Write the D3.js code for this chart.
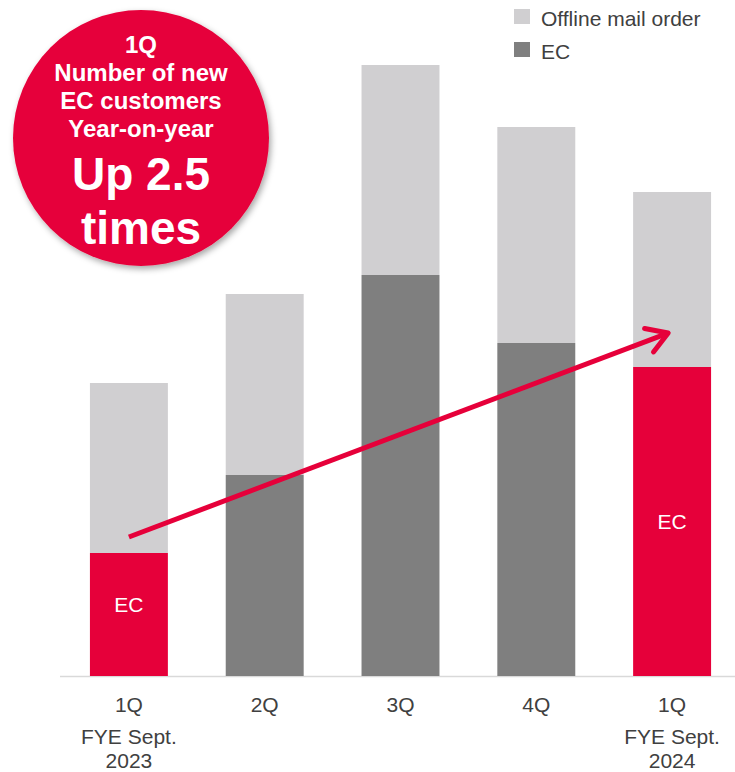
<!DOCTYPE html>
<html>
<head>
<meta charset="utf-8">
<script src="https://cdn.jsdelivr.net/npm/d3@7"></script>
<style>
  body { margin: 0; background: #fff; }
  text { font-family: Arial, "Liberation Sans", sans-serif; }
</style>
</head>
<body>
<div id="chart"></div>
<script>
// data (arbitrary units, no value axis shown)
var quarters = ["1Q", "2Q", "3Q", "4Q", "1Q "]
var yearLabels = ["FYE Sept.|2023", "", "", "", "FYE Sept.|2024"]
var ecValues = [123, 201, 401, 333, 309]
var offlineValues = [170, 181, 210, 216, 175]
var highlighted = [true, false, false, false, true]
var badgeLines = ["1Q", "Number of new", "EC customers", "Year-on-year"]
var badgeBig = ["Up 2.5", "times"]
var legendItems = ["Offline mail order", "EC"]

var width = 735
var height = 772
var margins = ({ top: 20, right: 0, bottom: 96, left: 60 })

const red = "#e6003a"
const lightGrey = "#d0cfd1"
const darkGrey = "#7f7f7f"
const textGrey = "#404040"

var svg = d3.select("#chart").append("svg")
    .attr("width", width)
    .attr("height", height)

var defs = svg.append("defs")
var shadow = defs.append("filter").attr("id", "shadow")
    .attr("x", "-20%").attr("y", "-20%").attr("width", "140%").attr("height", "140%")
shadow.append("feDropShadow")
    .attr("dx", 2).attr("dy", 3).attr("stdDeviation", 3)
    .attr("flood-color", "#000").attr("flood-opacity", 0.35)

var rows = quarters.map(function(q, i) {
    return { q: q, ec: ecValues[i], offline: offlineValues[i], hi: highlighted[i], year: yearLabels[i] }
})

var x = d3.scaleBand()
    .domain(quarters)
    .range([61, 740])
    .paddingInner(0.426)
    .paddingOuter(0.213)

var y = d3.scaleLinear()
    .domain([0, 676 - 66])
    .range([height - margins.bottom, height - margins.bottom - (676 - 66)])

// baseline
svg.append("line")
    .attr("x1", margins.left).attr("x2", width)
    .attr("y1", y(0) + 0.5).attr("y2", y(0) + 0.5)
    .attr("stroke", "#d9d9d9").attr("stroke-width", 1.5)

var bars = svg.append("g").selectAll("g")
    .data(rows)
    .enter().append("g")

bars.append("rect")
    .attr("x", d => x(d.q))
    .attr("width", x.bandwidth())
    .attr("y", d => y(d.ec))
    .attr("height", d => y(0) - y(d.ec))
    .attr("fill", d => d.hi ? red : darkGrey)

bars.append("rect")
    .attr("x", d => x(d.q))
    .attr("width", x.bandwidth())
    .attr("y", d => y(d.ec + d.offline))
    .attr("height", d => y(d.ec) - y(d.ec + d.offline))
    .attr("fill", lightGrey)

bars.filter(d => d.hi).append("text")
    .attr("x", d => x(d.q) + x.bandwidth() / 2)
    .attr("y", (d, i) => (y(0) + y(d.ec)) / 2 + 7 - (d.ec < 200 ? 10 : 0))
    .attr("text-anchor", "middle")
    .attr("font-size", 21)
    .attr("fill", "#fff")
    .text("EC")

// category labels
var labels = svg.append("g").selectAll("text")
    .data(rows)
    .enter().append("text")
    .attr("x", d => x(d.q) + x.bandwidth() / 2)
    .attr("y", y(0) + 36)
    .attr("text-anchor", "middle")
    .attr("font-size", 21)
    .attr("fill", textGrey)
labels.append("tspan").text(d => d.q.trim())
labels.each(function(d) {
    if (!d.year) return
    var t = d3.select(this)
    d.year.split("|").forEach(function(s, k) {
        t.append("tspan")
            .attr("x", x(d.q) + x.bandwidth() / 2)
            .attr("dy", k == 0 ? 32 : 24)
            .text(s)
    })
})

// arrow from first EC bar to last
var first = rows[0], last = rows[rows.length - 1]
var ax1 = x(first.q) + x.bandwidth() / 2
var ay1 = y(first.ec) - 16
var ax2 = x(last.q) + x.bandwidth() * 0.45
var ay2 = y(last.ec) - 34
var ang = Math.atan2(ay2 - ay1, ax2 - ax1)
svg.append("line")
    .attr("x1", ax1).attr("y1", ay1)
    .attr("x2", ax2 - 3 * Math.cos(ang)).attr("y2", ay2 - 3 * Math.sin(ang))
    .attr("stroke", red).attr("stroke-width", 5)
var headLen = 24, spread = 0.55
svg.append("path")
    .attr("d", "M" + (ax2 - headLen * Math.cos(ang - spread)) + "," + (ay2 - headLen * Math.sin(ang - spread)) +
        "L" + ax2 + "," + ay2 +
        "L" + (ax2 - headLen * Math.cos(ang + spread)) + "," + (ay2 - headLen * Math.sin(ang + spread)))
    .attr("fill", "none").attr("stroke", red).attr("stroke-width", 5)
    .attr("stroke-linecap", "round").attr("stroke-linejoin", "round")

// badge
var badge = svg.append("g").attr("transform", "translate(141,138)")
badge.append("circle").attr("r", 128).attr("fill", red).attr("filter", "url(#shadow)")
badge.selectAll(".small")
    .data(badgeLines)
    .enter().append("text")
    .attr("class", "small")
    .attr("y", (d, i) => -85 + i * 28)
    .attr("text-anchor", "middle")
    .attr("font-size", 24)
    .attr("font-weight", "bold")
    .attr("fill", "#fff")
    .text(d => d)
badge.selectAll(".big")
    .data(badgeBig)
    .enter().append("text")
    .attr("class", "big")
    .attr("y", (d, i) => 52 + i * 54)
    .attr("text-anchor", "middle")
    .attr("font-size", 46)
    .attr("font-weight", "bold")
    .attr("fill", "#fff")
    .text(d => d)

// legend
var legend = svg.append("g").attr("transform", "translate(514,9)")
    .selectAll("g")
    .data(legendItems)
    .enter().append("g")
    .attr("transform", (d, i) => "translate(0," + i * 33 + ")")
legend.append("rect")
    .attr("width", 16).attr("height", 15)
    .attr("fill", (d, i) => i == 0 ? lightGrey : darkGrey)
legend.append("text")
    .attr("x", 27).attr("y", 17)
    .attr("font-size", 21)
    .attr("fill", textGrey)
    .text(d => d)
</script>
</body>
</html>
